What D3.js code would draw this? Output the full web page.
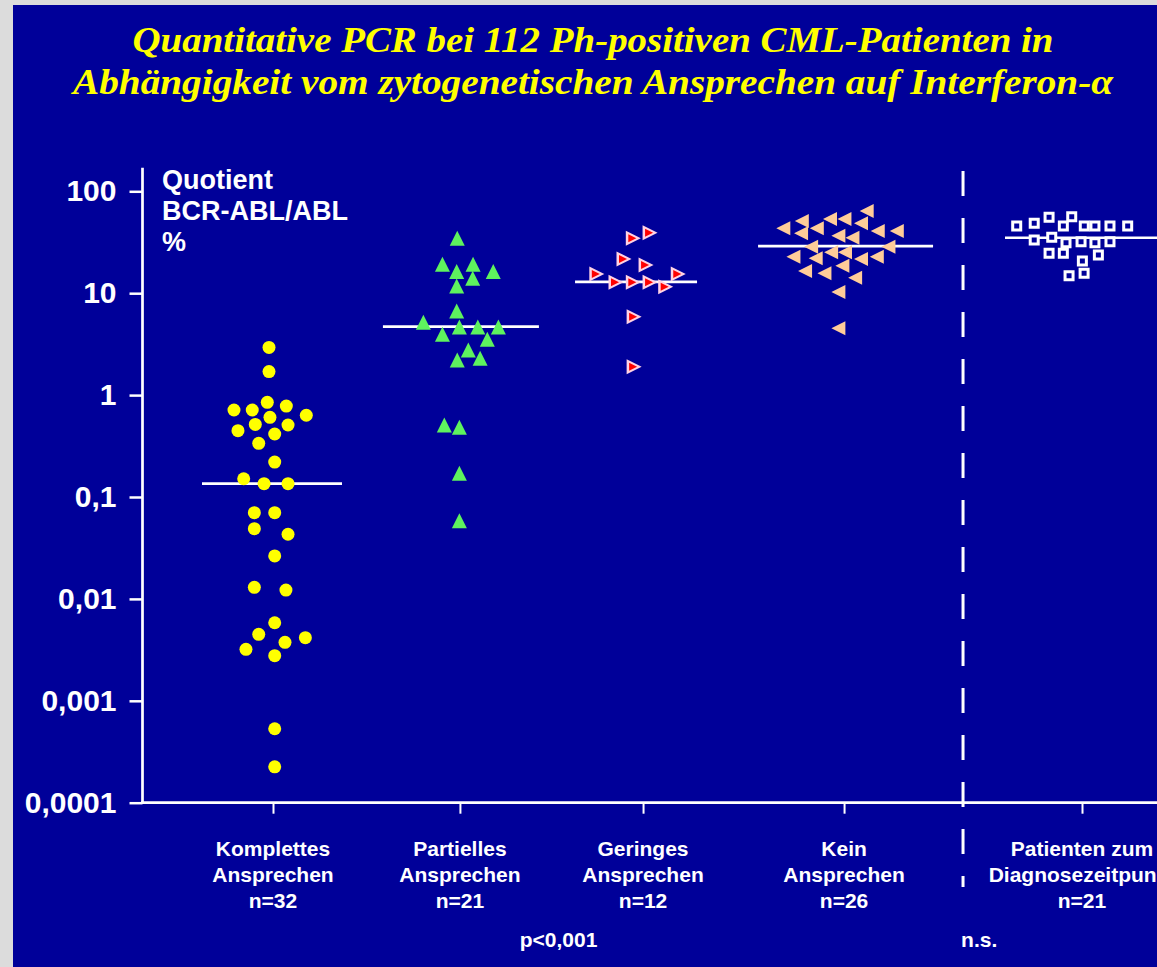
<!DOCTYPE html>
<html>
<head>
<meta charset="utf-8">
<script src="https://cdn.jsdelivr.net/npm/d3@7"></script>
<style>
    html, body { margin: 0; padding: 0; background: #dcdcdc; overflow: hidden; }
    svg { display: block; }
</style>
</head>
<body>
<script>
// ---- data (BCR-ABL/ABL quotient in %) ----
var categories = ["Komplettes", "Partielles", "Geringes", "Kein", "Patienten"];
var categoryLabels = [
    ["Komplettes", "Ansprechen", "n=32"],
    ["Partielles", "Ansprechen", "n=21"],
    ["Geringes", "Ansprechen", "n=12"],
    ["Kein", "Ansprechen", "n=26"],
    ["Patienten zum", "Diagnosezeitpunkt", "n=21"]
];

var komplett = [2.94, 1.70, 0.714, 0.714, 0.849, 0.78, 0.634, 0.605, 0.516, 0.509, 0.448, 0.415,
    0.336, 0.220, 0.151, 0.135, 0.135, 0.0702, 0.0702, 0.0489, 0.0431, 0.0264, 0.0130, 0.0122,
    0.00583, 0.00449, 0.00416, 0.00375, 0.00320, 0.00277, 0.000532, 0.000225];
var komplettJitter = [-0.021, -0.021, -0.205, -0.109, -0.030, 0.070, 0.175, -0.016, -0.093, 0.079, -0.184, 0.009,
    -0.075, 0.009, -0.154, -0.047, 0.079, -0.098, 0.009, -0.098, 0.079, 0.009, -0.098, 0.068,
    0.009, -0.075, 0.170, 0.063, -0.142, 0.009, 0.009, 0.009];

var partiell = [34.6, 19.2, 19.2, 16.3, 16.3, 14.0, 11.8, 6.69, 5.18, 4.66, 4.66, 4.66, 3.95, 3.53,
    2.77, 2.21, 2.30, 0.509, 0.483, 0.171, 0.0585];
var partiellJitter = [-0.014, -0.092, 0.069, -0.017, 0.175, 0.067, -0.017, -0.017, -0.192, -0.003, 0.094, 0.202,
    -0.092, 0.144, 0.044, -0.014, 0.106, -0.082, -0.003, -0.003, -0.003];

var geringes = [39.2, 34.6, 21.7, 18.9, 15.4, 15.4, 12.8, 12.8, 12.8, 11.6, 5.88, 1.90];
var geringesJitter = [0.037, -0.051, -0.100, 0.016, -0.243, 0.185, -0.142, -0.051, 0.037, 0.119, -0.047, -0.047];

var kein = [64.1, 51.1, 53.5, 53.5, 48.5, 43.4, 43.4, 40.8, 40.8, 38.7, 36.7, 35.1, 28.6, 28.6,
    25.2, 25.2, 22.8, 22.0, 21.7, 22.8, 18.6, 16.5, 15.7, 14.2, 10.3, 4.53];
var keinJitter = [0.119, -0.222, -0.074, 0.002, 0.089, -0.319, -0.143, 0.177, 0.277, -0.226, -0.030, 0.044, -0.173, 0.233,
    -0.068, 0.005, -0.266, -0.149, 0.089, 0.172, -0.009, -0.205, -0.103, 0.058, -0.030, -0.030];

var diagnose = [45.6, 48.5, 55.6, 56.3, 45.6, 45.6, 45.6, 45.6, 45.6, 33.3, 35.4, 31.3, 32.0, 31.3,
    32.0, 24.6, 24.6, 23.7, 20.7, 15.7, 14.8];
var diagnoseJitter = [-0.343, -0.251, -0.173, -0.054, -0.098, 0.012, 0.068, 0.147, 0.240, -0.251, -0.159, -0.084, -0.005, 0.068,
    0.147, -0.173, -0.098, 0.086, 0.002, 0.011, -0.068];

var medians = [0.135, 4.7, 12.9, 29, 35];

var yTicks = [0.0001, 0.001, 0.01, 0.1, 1, 10, 100];
var yTickLabels = ["0,0001", "0,001", "0,01", "0,1", "1", "10", "100"];

// ---- layout ----
var W = 1157, H = 967;
var slots = [0, 0.982, 1.944, 3, 4.25];   // category positions, last one behind the separator
var separatorSlot = 3.625;
var medianExtent = [[-71, 69], [-77, 79], [-68, 54], [-86, 89], [-77, 120]];
var sans = "'Liberation Sans', Arial, sans-serif";

var svg = d3.select("body").append("svg")
    .attr("width", W)
    .attr("height", H);

// blue slide panel inside the grey frame
svg.append("rect")
    .attr("x", 13).attr("y", 5)
    .attr("width", W - 13).attr("height", H - 5)
    .attr("fill", "#000099");

// title
var title = [
    "Quantitative PCR bei 112 Ph-positiven CML-Patienten in",
    "Abhängigkeit vom zytogenetischen Ansprechen auf Interferon-α"
];
var titleWidth = [921, 1040];
svg.selectAll(".title")
    .data(title)
    .enter().append("text")
    .attr("class", "title")
    .attr("x", 593)
    .attr("y", function (d, i) { return 52 + i * 42; })
    .attr("text-anchor", "middle")
    .attr("textLength", function (d, i) { return titleWidth[i]; })
    .attr("lengthAdjust", "spacingAndGlyphs")
    .style("font-family", "'Liberation Serif', 'Times New Roman', serif")
    .style("font-style", "italic")
    .style("font-weight", "bold")
    .style("font-size", "35px")
    .style("fill", "#ffff00")
    .text(function (d) { return d; });

// scales
var y = d3.scaleLog()
    .domain([0.0001, 100])
    .range([802.7, 191.3]);
var x = d3.scaleLinear()
    .domain([0, 4.25])
    .range([273, 1082]);

// y axis
var yAxis = svg.append("g")
    .attr("transform", "translate(142.5,0)")
    .call(d3.axisLeft(y)
        .tickValues(yTicks)
        .tickFormat(function (d) { return yTickLabels[yTicks.indexOf(d)]; })
        .tickSize(13)
        .tickPadding(13));
yAxis.select(".domain").remove();
yAxis.selectAll("line").attr("stroke", "#fff").attr("stroke-width", 2.5);
yAxis.selectAll("text")
    .attr("fill", "#fff")
    .style("font-family", sans)
    .style("font-weight", "bold")
    .style("font-size", "30px");
yAxis.append("line")
    .attr("x1", 0).attr("x2", 0)
    .attr("y1", y(0.0001)).attr("y2", y(170))
    .attr("stroke", "#fff").attr("stroke-width", 2.7);

// axis label
svg.append("text")
    .attr("x", 162)
    .attr("y", 189)
    .style("font-family", sans)
    .style("font-weight", "bold")
    .style("font-size", "27px")
    .style("fill", "#fff")
    .selectAll("tspan")
    .data(["Quotient", "BCR-ABL/ABL", "%"])
    .enter().append("tspan")
    .attr("x", 162)
    .attr("dy", function (d, i) { return i === 0 ? 0 : 31; })
    .text(function (d) { return d; });

// x axis
var xAxis = svg.append("g")
    .attr("transform", "translate(0," + y(0.0001) + ")")
    .call(d3.axisBottom(x)
        .tickValues(slots)
        .tickFormat("")
        .tickSize(11));
xAxis.select(".domain").remove();
xAxis.selectAll("line").attr("stroke", "#fff").attr("stroke-width", 2);
xAxis.append("line")
    .attr("x1", 141).attr("x2", W)
    .attr("stroke", "#fff").attr("stroke-width", 2.7);

// separator between responders and the diagnosis group
svg.append("line")
    .attr("x1", x(separatorSlot)).attr("x2", x(separatorSlot))
    .attr("y1", 171).attr("y2", 887)
    .attr("stroke", "#fff")
    .attr("stroke-width", 3)
    .attr("stroke-dasharray", "25,22");

// category labels
categoryLabels.forEach(function (lines, i) {
    svg.append("text")
        .attr("text-anchor", "middle")
        .style("font-family", sans)
        .style("font-weight", "bold")
        .style("font-size", "21px")
        .style("fill", "#fff")
        .selectAll("tspan")
        .data(lines)
        .enter().append("tspan")
        .attr("x", x(slots[i]))
        .attr("y", function (d, j) { return 856 + j * 26; })
        .text(function (d) { return d; });
});

svg.append("text")
    .attr("x", (x(slots[0]) + x(slots[3])) / 2)
    .attr("y", 947)
    .attr("text-anchor", "middle")
    .style("font-family", sans).style("font-weight", "bold").style("font-size", "21px")
    .style("fill", "#fff")
    .text("p<0,001");
svg.append("text")
    .attr("x", x(3.71))
    .attr("y", 947)
    .attr("text-anchor", "middle")
    .style("font-family", sans).style("font-weight", "bold").style("font-size", "21px")
    .style("fill", "#fff")
    .text("n.s.");

// median lines
svg.selectAll(".median")
    .data(medians)
    .enter().append("line")
    .attr("class", "median")
    .attr("x1", function (d, i) { return x(slots[i]) + medianExtent[i][0]; })
    .attr("x2", function (d, i) { return x(slots[i]) + medianExtent[i][1]; })
    .attr("y1", function (d) { return y(d); })
    .attr("y2", function (d) { return y(d); })
    .attr("stroke", "#fff")
    .attr("stroke-width", 2.7);

// marker shapes (size = box width), centred on their bounding box
function tri(dir) {
    return {
        draw: function (ctx, s) {
            var h = s / 2;
            if (dir === "up") { ctx.moveTo(0, -h); ctx.lineTo(h, h); ctx.lineTo(-h, h); }
            if (dir === "right") { ctx.moveTo(h, 0); ctx.lineTo(-h, -h); ctx.lineTo(-h, h); }
            if (dir === "left") { ctx.moveTo(-h, 0); ctx.lineTo(h, -h); ctx.lineTo(h, h); }
            ctx.closePath();
        }
    };
}
var square = {
    draw: function (ctx, s) { ctx.rect(-s / 2, -s / 2, s, s); }
};

function points(values, jitter, slot) {
    return values.map(function (v, i) { return { v: v, dx: jitter[i], slot: slot }; });
}
function pos(d) {
    return "translate(" + x(d.slot + d.dx) + "," + y(d.v) + ")";
}

// Komplettes Ansprechen - yellow dots
svg.selectAll(".komplett")
    .data(points(komplett, komplettJitter, slots[0]))
    .enter().append("circle")
    .attr("class", "komplett")
    .attr("cx", function (d) { return x(d.slot + d.dx); })
    .attr("cy", function (d) { return y(d.v); })
    .attr("r", 6.5)
    .attr("fill", "#ffff00");

// Partielles Ansprechen - green triangles
svg.selectAll(".partiell")
    .data(points(partiell, partiellJitter, slots[1]))
    .enter().append("path")
    .attr("class", "partiell")
    .attr("transform", pos)
    .attr("d", d3.symbol().type(tri("up")).size(15))
    .attr("fill", "#5ef25e");

// Geringes Ansprechen - white/red flags
var ger = svg.selectAll(".geringes")
    .data(points(geringes, geringesJitter, slots[2]))
    .enter().append("g")
    .attr("class", "geringes")
    .attr("transform", pos);
ger.append("path")
    .attr("d", d3.symbol().type(tri("right")).size(15))
    .attr("fill", "#ffd2e4");
ger.append("path")
    .attr("transform", "translate(-1,0)")
    .attr("d", d3.symbol().type(tri("right")).size(8))
    .attr("fill", "#ff0000");

// Kein Ansprechen - peach triangles
svg.selectAll(".kein")
    .data(points(kein, keinJitter, slots[3]))
    .enter().append("path")
    .attr("class", "kein")
    .attr("transform", pos)
    .attr("d", d3.symbol().type(tri("left")).size(14))
    .attr("fill", "#ffcc99");

// Patienten zum Diagnosezeitpunkt - open squares
svg.selectAll(".diagnose")
    .data(points(diagnose, diagnoseJitter, slots[4]))
    .enter().append("path")
    .attr("class", "diagnose")
    .attr("transform", pos)
    .attr("d", d3.symbol().type(square).size(8))
    .attr("fill", "#000099")
    .attr("stroke", "#fff")
    .attr("stroke-width", 3);
</script>
</body>
</html>
